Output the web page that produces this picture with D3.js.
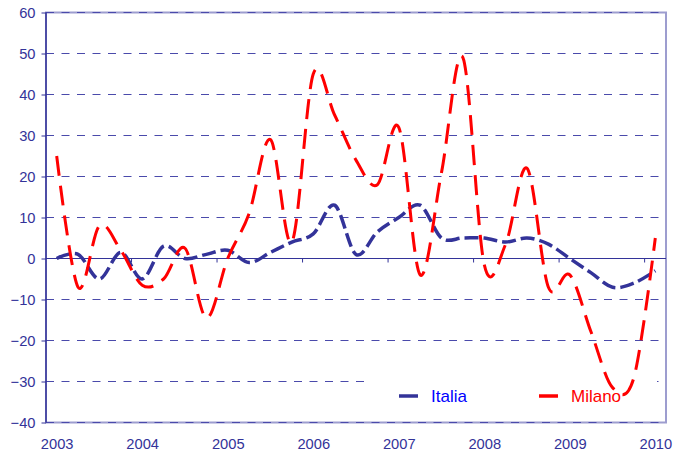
<!DOCTYPE html>
<html>
<head>
<meta charset="utf-8">
<script src="https://cdn.jsdelivr.net/npm/d3@7"></script>
<style>
  body { margin: 0; background: #fff; }
  svg { display: block; font-family: "Liberation Sans", Arial, sans-serif; }
</style>
</head>
<body>
<div id="chart"></div>
<script>
// quarterly values, 2003 Q1 .. 2010 Q1
var years = [2003, 2004, 2005, 2006, 2007, 2008, 2009, 2010];
var yTicks = [-40, -30, -20, -10, 0, 10, 20, 30, 40, 50, 60];
var seriesNames = ["Italia", "Milano"];
var italia = [0, 1, -5, 1.5, -5, 3, 0, 1, 2, -1, 1.5, 4, 6, 13, 1, 6.5, 10, 13, 5, 5, 5, 4, 5, 3.5, 0, -3.5, -7, -6, -3];
var milano = [25, -7, 8, 2, -6.5, -5, 2.5, -14.5, 0, 11, 29, 4, 45, 35, 24, 18, 32, -4, 21, 49, -1.5, 3.5, 22, -7, -4, -18, -31.5, -29, 5];

var w = 685, h = 453;
var plotLeft = 46, plotRight = 666, plotTop = 12.5, plotBottom = 422.5;
var navy = "#333399";

var svg = d3.select("#chart").append("svg")
    .attr("width", w)
    .attr("height", h);

var x = d3.scaleLinear()
    .domain([-0.5, italia.length - 0.5])
    .range([plotLeft, plotRight]);
var y = d3.scaleLinear()
    .domain([-40, 60])
    .range([plotBottom, plotTop]);

// plot border (light)
svg.append("rect")
    .attr("x", plotLeft).attr("y", plotTop)
    .attr("width", plotRight - plotLeft).attr("height", plotBottom - plotTop)
    .attr("fill", "none")
    .attr("stroke", "#9d9dcf")
    .attr("stroke-width", 2);

// dashed gridlines
svg.append("g")
    .selectAll("line")
    .data(yTicks.filter(function(d) { return d != 0; }))
    .enter().append("line")
        .attr("x1", plotLeft).attr("x2", plotRight)
        .attr("y1", function(d) { return y(d); })
        .attr("y2", function(d) { return y(d); })
        .attr("stroke", "#4a4aab")
        .attr("stroke-width", 1.2)
        .attr("stroke-dasharray", "8,7.5");

// legend background hides the gridline behind it
svg.append("rect")
    .attr("x", 364).attr("y", 372)
    .attr("width", 293).attr("height", 46)
    .attr("fill", "#fff");

// y axis
var yAxis = svg.append("g")
    .attr("transform", "translate(" + plotLeft + ",0)")
    .call(d3.axisLeft(y).tickValues(yTicks).tickSize(4.5).tickPadding(6));
yAxis.attr("font-size", null).attr("font-family", null);
yAxis.select(".domain").remove();
yAxis.selectAll("line").attr("stroke", navy);
yAxis.selectAll("text")
    .attr("fill", navy)
    .style("font-size", "14.7px");

svg.append("line")
    .attr("x1", plotLeft).attr("x2", plotLeft)
    .attr("y1", plotTop).attr("y2", plotBottom)
    .attr("stroke", navy)
    .attr("stroke-width", 1.5);

// zero line with year ticks between categories
svg.append("line")
    .attr("x1", plotLeft).attr("x2", plotRight)
    .attr("y1", y(0)).attr("y2", y(0))
    .attr("stroke", navy)
    .attr("stroke-width", 1.2);
svg.append("g")
    .selectAll("line")
    .data(years.slice(1))
    .enter().append("line")
        .attr("x1", function(d, i) { return x(i * 4 + 3.5); })
        .attr("x2", function(d, i) { return x(i * 4 + 3.5); })
        .attr("y1", y(0)).attr("y2", y(0) + 4)
        .attr("stroke", navy);

// x labels
var xAxis = svg.append("g")
    .attr("transform", "translate(0," + plotBottom + ")")
    .call(d3.axisBottom(x)
        .tickValues(years.map(function(d, i) { return i * 4; }))
        .tickFormat(function(d) { return years[d / 4]; })
        .tickSize(0).tickPadding(16));
xAxis.attr("font-size", null).attr("font-family", null);
xAxis.select(".domain").remove();
xAxis.selectAll("text")
    .attr("fill", navy)
    .style("font-size", "14.7px");

// series
var line = d3.line()
    .x(function(d, i) { return x(i); })
    .y(function(d) { return y(d); })
    .curve(d3.curveCardinal);

var styles = [
    { color: navy, width: 3.5, dash: "14,5" },
    { color: "#ff0000", width: 3, dash: "20,10" }
];

svg.append("path")
    .datum(italia)
    .attr("d", line)
    .attr("fill", "none")
    .attr("stroke", styles[0].color)
    .attr("stroke-width", styles[0].width)
    .attr("stroke-dasharray", styles[0].dash);

svg.append("path")
    .datum(milano)
    .attr("d", line)
    .attr("fill", "none")
    .attr("stroke", styles[1].color)
    .attr("stroke-width", styles[1].width)
    .attr("stroke-dasharray", styles[1].dash);

// legend
var legendX = [399, 539];
var textColors = ["#0000ff", "#ff0000"];
var legend = svg.append("g")
    .selectAll("g")
    .data(seriesNames)
    .enter().append("g")
        .attr("transform", function(d, i) { return "translate(" + legendX[i] + ",396)"; });
legend.append("line")
    .attr("x1", 0).attr("x2", 19)
    .attr("stroke", function(d, i) { return styles[i].color; })
    .attr("stroke-width", 3.5);
legend.append("text")
    .attr("x", 32)
    .attr("y", 6)
    .attr("font-size", "17px")
    .attr("fill", function(d, i) { return textColors[i]; })
    .text(function(d) { return d; });
</script>
</body>
</html>
